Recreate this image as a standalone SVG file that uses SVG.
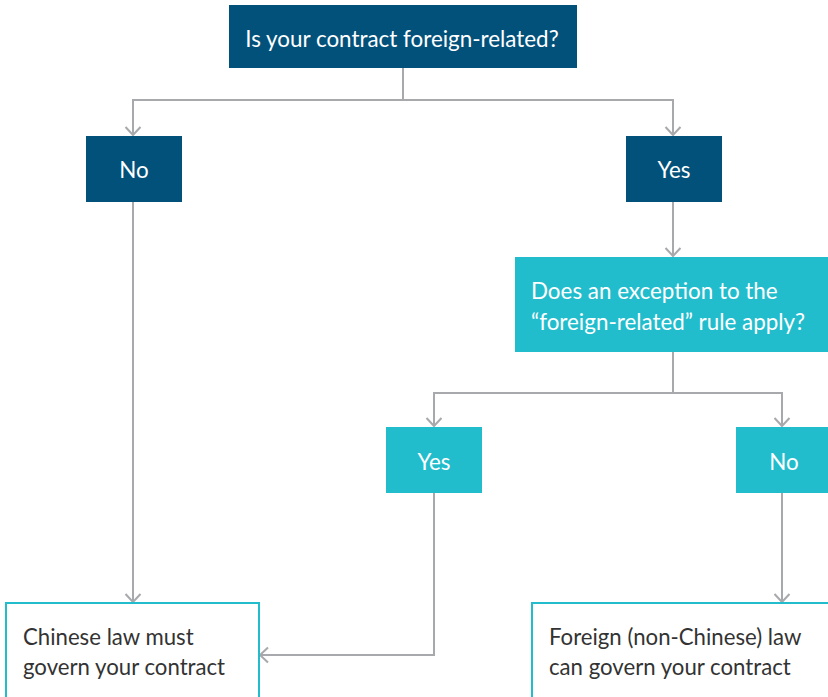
<svg xmlns="http://www.w3.org/2000/svg" width="828" height="697" viewBox="0 0 828 697">
<style>
.dark{fill:#02517A}
.teal{fill:#22BDCD}
.out{fill:#fff;stroke:#22BDCD;stroke-width:2}
.wt{fill:#fff;font-family:Lato,"Liberation Sans",sans-serif;font-size:22.4px;font-weight:400}
.bt{fill:#333;font-family:Lato,"Liberation Sans",sans-serif;font-size:22.2px;font-weight:400}
.c{stroke:#A7A9AC;stroke-width:2;fill:none}
</style>
<defs>
<marker id="ah" viewBox="-1 -1 12 18" refX="9" refY="8" markerWidth="12" markerHeight="18" markerUnits="userSpaceOnUse" orient="auto">
<path d="M1,0.5 L9,8 L1,15.5" fill="none" stroke="#A7A9AC" stroke-width="2"/>
</marker>
</defs>
<g id="connectors">
<path class="c" d="M403,68 V100"/>
<path class="c" d="M403,100 H133 V135" marker-end="url(#ah)"/>
<path class="c" d="M403,100 H673 V135" marker-end="url(#ah)"/>
<path class="c" d="M673,202 V256" marker-end="url(#ah)"/>
<path class="c" d="M673,352 V393"/>
<path class="c" d="M673,393 H434 V426" marker-end="url(#ah)"/>
<path class="c" d="M673,393 H782 V426" marker-end="url(#ah)"/>
<path class="c" d="M133,202 V602" marker-end="url(#ah)"/>
<path class="c" d="M434,493 V655 H260" marker-end="url(#ah)"/>
<path class="c" d="M782,493 V602" marker-end="url(#ah)"/>
</g>
<g id="q1">
<rect class="dark" x="229" y="5" width="348" height="63"/>
<text class="wt" x="402" y="47" text-anchor="middle">Is your contract foreign-related?</text>
</g>
<g id="no1">
<rect class="dark" x="86" y="136" width="96" height="66"/>
<text class="wt" x="134" y="178" text-anchor="middle">No</text>
</g>
<g id="yes1">
<rect class="dark" x="626" y="136" width="96" height="66"/>
<text class="wt" x="674" y="178" text-anchor="middle">Yes</text>
</g>
<g id="q2">
<rect class="teal" x="515" y="257" width="313" height="95"/>
<text class="wt" x="531" y="299">Does an exception to the</text>
<text class="wt" x="531" y="330">“foreign-related” rule apply?</text>
</g>
<g id="yes2">
<rect class="teal" x="386" y="427" width="96" height="66"/>
<text class="wt" x="434" y="470" text-anchor="middle">Yes</text>
</g>
<g id="no2">
<rect class="teal" x="736" y="427" width="92" height="66"/>
<text class="wt" x="784" y="470" text-anchor="middle">No</text>
</g>
<g id="res1">
<rect class="out" x="6" y="603" width="253" height="100"/>
<text class="bt" x="23" y="645">Chinese law must</text>
<text class="bt" x="23" y="675">govern your contract</text>
</g>
<g id="res2">
<rect class="out" x="532" y="603" width="300" height="100"/>
<text class="bt" x="549" y="645">Foreign (non-Chinese) law</text>
<text class="bt" x="549" y="675">can govern your contract</text>
</g>
</svg>
